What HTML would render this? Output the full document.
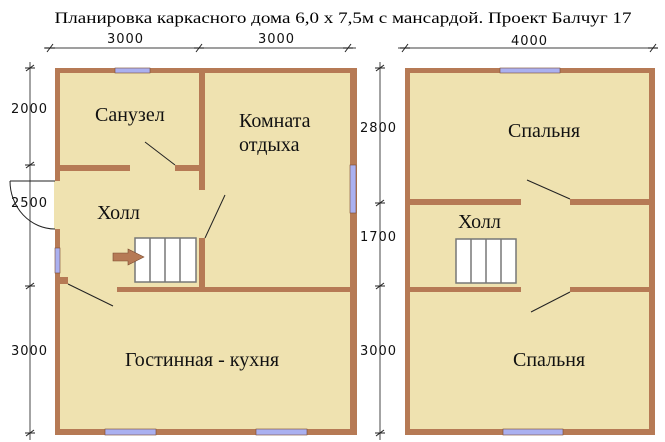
<!DOCTYPE html>
<html><head><meta charset="utf-8"><style>
html,body{margin:0;padding:0;background:#fff;}
svg{display:block;}
</style></head><body>
<svg width="665" height="442" viewBox="0 0 665 442" xmlns="http://www.w3.org/2000/svg" font-family="Liberation Serif, serif">
<rect width="665" height="442" fill="#fff"/>
<text x="343" y="23" font-size="16" text-anchor="middle" textLength="577" lengthAdjust="spacingAndGlyphs" fill="#000">Планировка каркасного дома 6,0 х 7,5м с мансардой. Проект Балчуг 17</text>

<g stroke="#666" stroke-width="1.2" fill="none">
<line x1="44" y1="48" x2="356" y2="48"/>
<line x1="398" y1="48" x2="658" y2="48"/>
<line x1="30" y1="62" x2="30" y2="440"/>
<line x1="380" y1="62" x2="380" y2="440"/>
</g>
<g stroke="#222" stroke-width="1">
<line x1="47" y1="52" x2="53" y2="44"/><line x1="45" y1="48" x2="55" y2="48"/>
<line x1="196" y1="52" x2="202" y2="44"/><line x1="194" y1="48" x2="204" y2="48"/>
<line x1="345" y1="52" x2="351" y2="44"/><line x1="343" y1="48" x2="353" y2="48"/>
<line x1="402" y1="52" x2="408" y2="44"/><line x1="400" y1="48" x2="410" y2="48"/>
<line x1="650" y1="52" x2="656" y2="44"/><line x1="648" y1="48" x2="658" y2="48"/>
<line x1="26" y1="71" x2="34" y2="65"/><line x1="25" y1="68" x2="35" y2="68"/>
<line x1="26" y1="168" x2="34" y2="162"/><line x1="25" y1="165" x2="35" y2="165"/>
<line x1="26" y1="289" x2="34" y2="283"/><line x1="25" y1="286" x2="35" y2="286"/>
<line x1="26" y1="436" x2="34" y2="430"/><line x1="25" y1="433" x2="35" y2="433"/>
<line x1="376" y1="71" x2="384" y2="65"/><line x1="375" y1="68" x2="385" y2="68"/>
<line x1="376" y1="206" x2="384" y2="200"/><line x1="375" y1="203" x2="385" y2="203"/>
<line x1="376" y1="289" x2="384" y2="283"/><line x1="375" y1="286" x2="385" y2="286"/>
<line x1="376" y1="436" x2="384" y2="430"/><line x1="375" y1="433" x2="385" y2="433"/>
</g>
<g font-family="DejaVu Sans, sans-serif" font-size="13" fill="#111" text-anchor="middle" lengthAdjust="spacingAndGlyphs">
<text x="125" y="43" textLength="36">3000</text>
<text x="276" y="43" textLength="36">3000</text>
<text x="529" y="45" textLength="36">4000</text>
<text x="29" y="113" textLength="36">2000</text>
<text x="29" y="207" textLength="36">2500</text>
<text x="29" y="355" textLength="36">3000</text>
<text x="378" y="132" textLength="36">2800</text>
<text x="378" y="241" textLength="36">1700</text>
<text x="378" y="355" textLength="36">3000</text>
</g>

<rect x="55" y="68" width="302" height="367" fill="#b67a55"/>
<rect x="60" y="73" width="290" height="356" fill="#efe2b0"/>
<rect x="54" y="181" width="7" height="48" fill="#efe2b0"/>
<path d="M10,181 L55,181 M10,181 A45,48 0 0 0 55,229" stroke="#222" stroke-width="1" fill="none"/>
<rect x="115" y="68" width="35" height="5" fill="#aab0f0"/>
<rect x="55" y="248" width="5" height="25" fill="#aab0f0"/>
<rect x="350" y="165" width="6" height="48" fill="#aab0f0"/>
<rect x="105" y="429" width="51" height="6" fill="#aab0f0"/>
<rect x="256" y="429" width="51" height="6" fill="#aab0f0"/>
<g stroke="#7a4a30" stroke-width="0.6" fill="none">
<rect x="115" y="68" width="35" height="5"/><rect x="55" y="248" width="5" height="25"/>
<rect x="350" y="165" width="6" height="48"/><rect x="105" y="429" width="51" height="6"/><rect x="256" y="429" width="51" height="6"/>
</g>
<g fill="#b67a55">
<rect x="60" y="165" width="70" height="6"/>
<rect x="175" y="165" width="30" height="6"/>
<rect x="199" y="73" width="6" height="117"/>
<rect x="199" y="238" width="6" height="52"/>
<rect x="117" y="287" width="233" height="5"/>
<rect x="60" y="277" width="8" height="7"/>
</g>
<g stroke="#222" stroke-width="1">
<line x1="145" y1="142" x2="175" y2="165"/>
<line x1="225" y1="195" x2="205" y2="238"/>
<line x1="68" y1="284" x2="113" y2="306"/>
</g>
<rect x="135" y="238" width="61" height="44" fill="#fff" stroke="#777" stroke-width="1.5"/>
<g stroke="#777" stroke-width="1.5"><line x1="150" y1="238" x2="150" y2="282"/><line x1="165" y1="238" x2="165" y2="282"/><line x1="180" y1="238" x2="180" y2="282"/></g>
<polygon points="113,253 128,253 128,249 144,257 128,265 128,261 113,261" fill="#b67a55" stroke="#7a4a30" stroke-width="0.6"/>

<rect x="405" y="68" width="250" height="367" fill="#b67a55"/>
<rect x="410" y="73" width="239" height="356" fill="#efe2b0"/>
<rect x="500" y="68" width="60" height="5" fill="#aab0f0" stroke="#7a4a30" stroke-width="0.6"/>
<rect x="503" y="429" width="60" height="6" fill="#aab0f0" stroke="#7a4a30" stroke-width="0.6"/>
<g fill="#b67a55">
<rect x="410" y="199" width="111" height="6"/>
<rect x="570" y="199" width="79" height="6"/>
<rect x="410" y="287" width="111" height="5"/>
<rect x="570" y="287" width="79" height="5"/>
</g>
<g stroke="#222" stroke-width="1">
<line x1="527" y1="180" x2="570" y2="199"/>
<line x1="570" y1="292" x2="531" y2="312"/>
</g>
<rect x="456" y="239" width="60" height="44" fill="#fff" stroke="#777" stroke-width="1.5"/>
<g stroke="#777" stroke-width="1.5"><line x1="471" y1="239" x2="471" y2="283"/><line x1="486" y1="239" x2="486" y2="283"/><line x1="501" y1="239" x2="501" y2="283"/></g>

<g font-size="20" fill="#111">
<text x="95" y="121">Санузел</text>
<text x="239" y="127">Комната</text>
<text x="239" y="151">отдыха</text>
<text x="97" y="219">Холл</text>
<text x="125" y="366">Гостинная - кухня</text>
<text x="508" y="137">Спальня</text>
<text x="458" y="228">Холл</text>
<text x="513" y="366">Спальня</text>
</g>
</svg>
</body></html>
